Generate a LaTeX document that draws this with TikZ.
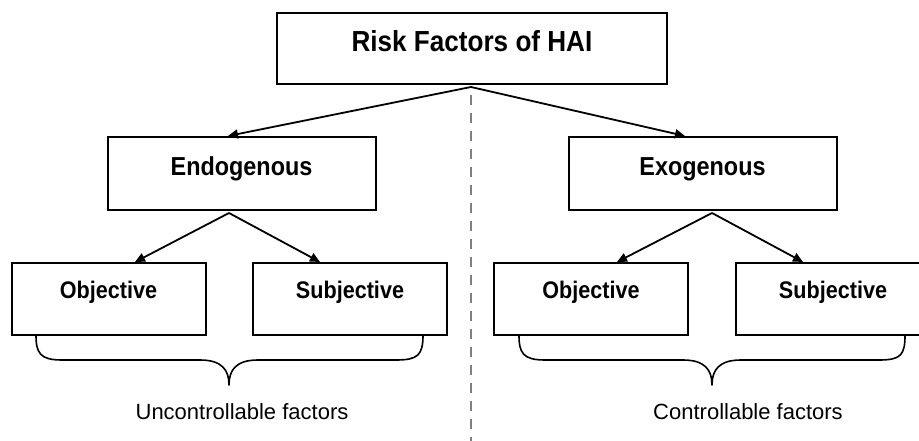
\documentclass[tikz,border=0pt]{standalone}
\usepackage{fontspec}
\setmainfont{Liberation Sans}
\newfontfamily\condbf{Liberation Sans Bold}[FakeStretch=0.9]
\usetikzlibrary{arrows.meta,calc}

\tikzset{
  box/.style={draw=black, line width=2pt, rectangle, inner sep=0pt, align=center},
  topbox/.style={box, minimum width=390pt, minimum height=71pt,
    font=\condbf\fontsize{29pt}{32pt}\selectfont, text height=21pt, text depth=14pt},
  midbox/.style={box, minimum width=268pt, minimum height=73pt,
    font=\condbf\fontsize{26pt}{30pt}\selectfont, text height=19pt, text depth=14pt},
  lowbox/.style={box, minimum width=194pt, minimum height=72pt,
    font=\condbf\fontsize{24pt}{28pt}\selectfont, text height=17pt, text depth=19pt},
  arr/.style={line width=1.8pt, -{Triangle[length=10pt,width=9pt]}},
  brace/.style={line width=1.6pt, line join=round},
  note/.style={font=\fontsize{22pt}{26pt}\selectfont, anchor=base, inner sep=0pt},
  divider/.style={draw=black!50, line width=2pt, dash pattern=on 10pt off 8pt}
}

\begin{document}
\begin{tikzpicture}[x=1pt, y=-1pt]
  \useasboundingbox (0,0) rectangle (919,441);

  % boxes
  \node[topbox] (root) at (472,48.5) {Risk Factors of HAI};
  \node[midbox] (endo) at (241.5,173.5) {Endogenous};
  \node[midbox] (exo)  at (702.5,173.5) {Exogenous};
  \node[lowbox] (obj1) at (108.5,299) {Objective};
  \node[lowbox] (sub1) at (350,299)   {Subjective};
  \node[lowbox] (obj2) at (591,299)   {Objective};
  \node[lowbox] (sub2) at (833,299)   {Subjective};

  % branch points just below the parent boxes
  \coordinate (rootfork) at (471,87);
  \coordinate (endofork) at (229,213);
  \coordinate (exofork)  at (712,213);

  % dividing line between the two groups
  \coordinate (divtop) at (471,95);
  \coordinate (divbot) at (471,441);
  \draw[divider] (divtop) -- (divbot);

  % connectors
  \draw[arr] (rootfork) -- ([xshift=-13.5pt]endo.north);
  \draw[arr] (rootfork) -- ([xshift=-17.5pt]exo.north);
  \draw[arr] (endofork) -- ([xshift=26.5pt]obj1.north);
  \draw[arr] (endofork) -- ([xshift=-30pt]sub1.north);
  \draw[arr] (exofork)  -- ([xshift=26pt]obj2.north);
  \draw[arr] (exofork)  -- ([xshift=-30pt]sub2.north);

  % braces under each pair
  \draw[brace] ([xshift=-72.5pt,yshift=1pt]obj1.south)
      .. controls +(0,18) and (40,360) .. (62,360) -- (200,360)
      .. controls (222,360) and (229,370) .. (229,385)
      .. controls (229,370) and (236,360) .. (258,360) -- (396,360)
      .. controls (418,360) and (423,355) .. ([xshift=73pt,yshift=1pt]sub1.south);
  \node[note] (unctl) at (242,419) {Uncontrollable factors};

  \draw[brace] ([xshift=-72pt,yshift=1pt]obj2.south)
      .. controls +(0,18) and (523,360) .. (545,360) -- (683,360)
      .. controls (705,360) and (712,370) .. (712,385)
      .. controls (712,370) and (719,360) .. (741,360) -- (879,360)
      .. controls (901,360) and (905,355) .. ([xshift=72pt,yshift=1pt]sub2.south);
  \node[note] (ctl) at (748,419) {Controllable factors};
\end{tikzpicture}
\end{document}
